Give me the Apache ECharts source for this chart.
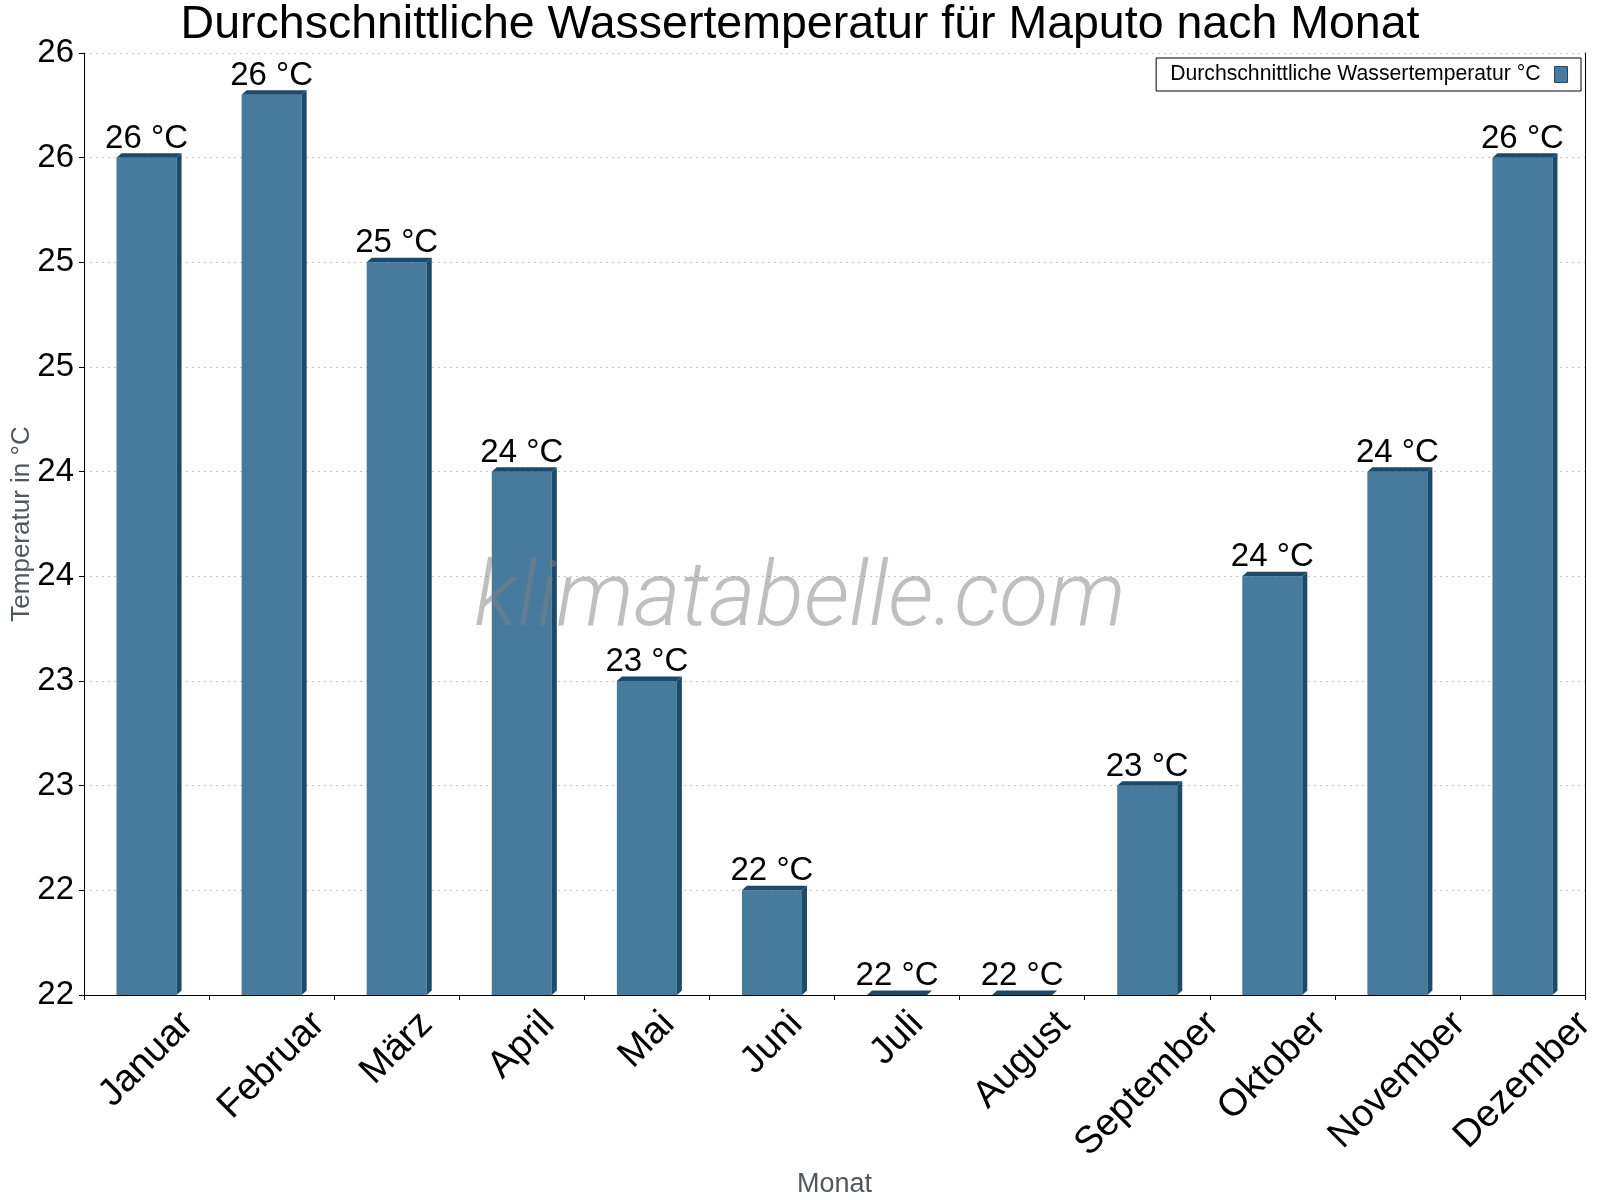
<!DOCTYPE html>
<html>
<head>
<meta charset="utf-8">
<script src="https://cdn.jsdelivr.net/npm/echarts@6/dist/echarts.min.js"></script>
<style>
html,body{margin:0;padding:0;background:#fff;}
#chart{width:1600px;height:1200px;}
</style>
</head>
<body>
<div id="chart"></div>
<script>
// ---- data ----
const titleText = 'Durchschnittliche Wassertemperatur für Maputo nach Monat';
const seriesName = 'Durchschnittliche Wassertemperatur °C';
const months = ['Januar','Februar','März','April','Mai','Juni','Juli','August','September','Oktober','November','Dezember'];
const waterTemp = [26.0, 26.3, 25.5, 24.5, 23.5, 22.5, 22.0, 22.0, 23.0, 24.0, 24.5, 26.0];
const yMin = 22;
const yMax = 26.5;
const yStep = 0.5;
const yAxisName = 'Temperatur in °C';
const xAxisName = 'Monat';
const watermark = 'klimatabelle.com';

// ---- style ----
const FONT = '"Liberation Sans", Arial, sans-serif';
const FRONT = '#467b9e';
const DARK = '#1b4a6a';
const DX = 5, DY = 4.5;
const X_FS = 38;
const AXIS_Y = 995, X_MARGIN = 8, LABEL_TOP = 1008;

// measure x labels to place rotated labels (bbox centered on tick, top aligned)
const cv = document.createElement('canvas').getContext('2d');
cv.font = X_FS + 'px ' + FONT;
const rich = {};
months.forEach((m, i) => {
  const w = cv.measureText(m).width;
  const yc = LABEL_TOP + (w + 0.78 * X_FS) * 0.35355;
  const s = yc - (AXIS_Y + X_MARGIN);
  const p = Math.max(0, 1.41421 * s);
  rich['l' + i] = {fontSize: X_FS, fontFamily: FONT, color: '#000', padding: [p, p, 0, 0]};
});

const chart = echarts.init(document.getElementById('chart'), null, {renderer: 'canvas'});
chart.setOption({
  backgroundColor: '#fff',
  animation: false,
  title: {
    text: titleText, left: 'center', top: 2, padding: 0,
    textStyle: {fontFamily: FONT, fontSize: 46.5, fontWeight: 'normal', color: '#000'}
  },
  legend: {
    right: 19, top: 58,
    align: 'right',
    padding: [6, 13, 6, 14],
    borderColor: '#000', borderWidth: 1,
    itemWidth: 13, itemHeight: 16,
    textStyle: {fontFamily: FONT, fontSize: 21.2, color: '#000', padding: [0, 9, 0, 0]},
    data: [{name: seriesName, icon: 'rect', itemStyle: {color: FRONT, borderColor: DARK, borderWidth: 1}}]
  },
  grid: {left: 84, right: 15, top: 53, bottom: 205, containLabel: false, outerBoundsMode: 'none'},
  graphic: [{
    type: 'text', left: 'center', top: 557, z: 100, silent: true,
    style: {text: watermark, font: 'italic 300 90px Roboto', fill: 'rgba(128,128,128,0.5)'}
  }],
  xAxis: {
    type: 'category', data: months,
    name: xAxisName, nameLocation: 'middle', nameGap: 176, nameMoveOverlap: false,
    nameTextStyle: {fontFamily: FONT, fontSize: 27, color: '#50575f'},
    axisLine: {lineStyle: {color: '#000', width: 1}},
    axisTick: {show: true, length: 5, interval: 0, lineStyle: {color: '#000'}},
    axisLabel: {
      interval: 0, rotate: 45, margin: X_MARGIN, align: 'center', verticalAlign: 'middle',
      formatter: (v, i) => '{l' + i + '|' + v + '}', rich: rich
    },
    splitLine: {show: false}
  },
  yAxis: [{
    type: 'value', min: yMin, max: yMax, interval: yStep,
    name: yAxisName, nameLocation: 'middle', nameGap: 49, nameMoveOverlap: false,
    nameTextStyle: {fontFamily: FONT, fontSize: 26, color: '#50575f'},
    axisLine: {show: true, lineStyle: {color: '#000', width: 1}},
    axisTick: {show: true, length: 5, lineStyle: {color: '#000'}},
    axisLabel: {margin: 10, fontFamily: FONT, fontSize: 33, color: '#000', formatter: v => String(Math.floor(v + 1e-9))},
    splitLine: {show: true, lineStyle: {type: [2, 4], color: '#c8c8c8', width: 1}}
  }, {
    type: 'value', min: yMin, max: yMax, interval: yStep, position: 'right',
    axisLine: {show: true, lineStyle: {color: '#000', width: 1}},
    axisTick: {show: false}, axisLabel: {show: false}, splitLine: {show: false}
  }],
  series: [{
    type: 'custom', name: seriesName, clip: false,
    itemStyle: {color: FRONT},
    data: waterTemp.map((v, i) => [i, v]),
    encode: {x: 0, y: 1},
    renderItem: function (params, api) {
      const i = api.value(0), v = api.value(1);
      const top = api.coord([i, v]);
      const base = api.coord([i, yMin]);
      const band = api.size([1, 0])[0];
      const bw = band * 0.48;
      const x1 = top[0] - bw / 2, x2 = top[0] + bw / 2;
      const yT = top[1], yB = base[1];
      return {
        type: 'group',
        children: [
          {type: 'rect', shape: {x: x1, y: yT, width: bw, height: yB - yT}, style: {fill: FRONT}},
          {type: 'polygon', shape: {points: [[x2, yT], [x2 + DX, yT - DY], [x2 + DX, yB - DY], [x2, yB]]}, style: {fill: DARK}},
          {type: 'polygon', shape: {points: [[x1, yT], [x1 + DX, yT - DY], [x2 + DX, yT - DY], [x2, yT]]}, style: {fill: DARK}},
          {type: 'text', style: {
            text: Math.floor(v + 1e-9) + ' °C', x: top[0], y: yT - DY + 2,
            align: 'center', verticalAlign: 'bottom', textAlign: 'center', textVerticalAlign: 'bottom',
            fontSize: 33, fontFamily: FONT, fill: '#000'
          }}
        ]
      };
    }
  }]
});
</script>
</body>
</html>
